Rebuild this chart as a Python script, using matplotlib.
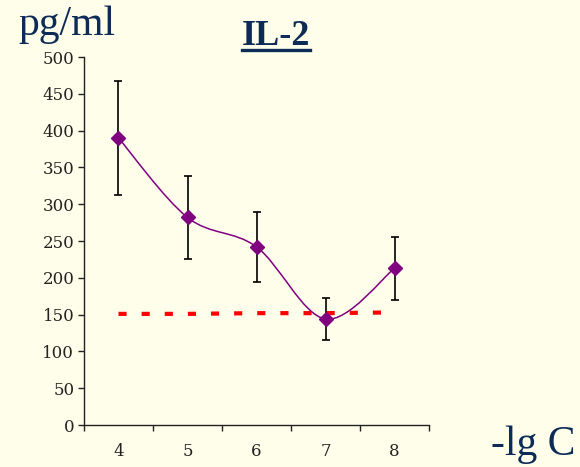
import matplotlib
matplotlib.use("Agg")
import matplotlib.pyplot as plt
from matplotlib.path import Path
from matplotlib.patches import PathPatch
from matplotlib.lines import Line2D

# dati
dosi = [4, 5, 6, 7, 8]              # -lg C
il2 = [390, 282, 242, 144, 213]     # pg/ml
errore = [78, 57, 48, 29, 43]
controllo = [151, 151, 152, 152, 153]

SFONDO = "#fefeea"
NAVY = "#0c2b56"
VIOLA = "#800080"
ROSSO = "#ff0000"


def curva_liscia(xs, ys):
    # bezier tipo "linea smussata" di Excel (control point a 1/6 dei vicini)
    pts = list(zip(xs, ys))
    verts = [pts[0]]
    codes = [Path.MOVETO]
    n = len(pts)
    for i in range(n - 1):
        p0 = pts[i - 1] if i > 0 else pts[i]
        p1, p2 = pts[i], pts[i + 1]
        p3 = pts[i + 2] if i + 2 < n else pts[i + 1]
        c1 = (p1[0] + (p2[0] - p0[0]) / 6, p1[1] + (p2[1] - p0[1]) / 6)
        c2 = (p2[0] - (p3[0] - p1[0]) / 6, p2[1] - (p3[1] - p1[1]) / 6)
        verts += [c1, c2, p2]
        codes += [Path.CURVE4] * 3
    return Path(verts, codes)


fig = plt.figure(figsize=(5.8, 4.67), dpi=100, facecolor=SFONDO)
ax = fig.add_axes([0.1448, 0.0899, 0.595, 0.788], facecolor=SFONDO)

ax.plot(dosi, controllo, color=ROSSO, linewidth=3.0, dashes=(1.95, 3.6),
        solid_capstyle="butt", dash_capstyle="butt", zorder=2)
ax.add_patch(PathPatch(curva_liscia(dosi, il2), facecolor="none",
                       edgecolor=VIOLA, linewidth=1.1, zorder=3))
ax.errorbar(dosi, il2, yerr=errore, fmt="none", ecolor="black", elinewidth=1.2,
            capsize=3.0, capthick=1.2, zorder=4)
ax.plot(dosi, il2, linestyle="none", marker="D", markersize=6.8,
        color=VIOLA, zorder=5)

ax.set_xlim(3.5, 8.5)
ax.set_ylim(0, 500)
ax.set_yticks(range(0, 501, 50))
ax.set_xticks([3.5, 4.5, 5.5, 6.5, 7.5, 8.5])
ax.set_xticklabels([])
ax.set_xticks(dosi, minor=True)
ax.set_xticklabels([str(d) for d in dosi], minor=True)

for s in ["top", "right"]:
    ax.spines[s].set_visible(False)
for s in ["left", "bottom"]:
    ax.spines[s].set_color("#222222")
    ax.spines[s].set_linewidth(1.0)

ax.tick_params(axis="y", which="major", length=4, width=1.0, color="#222222",
               pad=3, labelsize=12, labelcolor="#222222")
ax.tick_params(axis="x", which="major", length=4, width=1.0, color="#222222")
ax.tick_params(axis="x", which="minor", length=0, pad=13, labelsize=12,
               labelcolor="#222222")
for lab in ax.get_yticklabels() + ax.get_xticklabels(minor=True):
    lab.set_family("DejaVu Serif")

fig.text(0.031, 0.925, "pg/ml", fontsize=30, family="Liberation Serif",
         color=NAVY, ha="left", va="baseline")
titolo = fig.text(0.417, 0.904, "IL-2", fontsize=26, family="Liberation Serif",
                  fontweight="bold", color=NAVY, ha="left", va="baseline")
fig.text(0.846, 0.026, "-lg C", fontsize=30, family="Liberation Serif",
         color=NAVY, ha="left", va="baseline")

# sottolineatura del titolo
fig.canvas.draw()
bb = titolo.get_window_extent().transformed(fig.transFigure.inverted())
y_sotto = 0.904 - 0.012
fig.add_artist(Line2D([bb.x0, bb.x1], [y_sotto, y_sotto], color=NAVY,
                      linewidth=2.4, transform=fig.transFigure))

fig.savefig("out.png", dpi=100, facecolor=SFONDO)
